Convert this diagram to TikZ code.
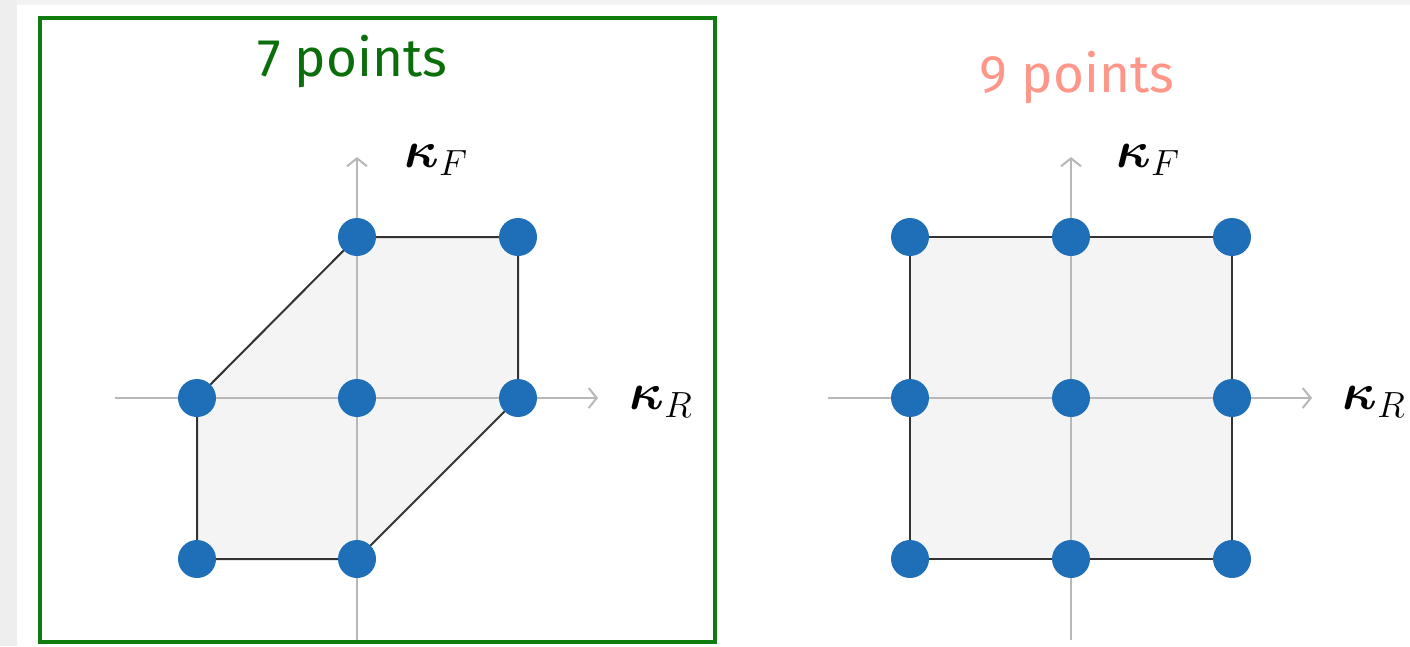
\RequirePackage{fix-cm}
\documentclass[tikz,border=0pt]{standalone}
\usepackage{fontspec}
\usepackage{bm}
\newfontfamily\titlefont{Fira Sans}
\usetikzlibrary{arrows.meta,backgrounds}
\definecolor{axisgray}{HTML}{B8B8B8}
\definecolor{dotblue}{HTML}{1F6FB8}
\definecolor{fillgray}{HTML}{F4F4F4}
\definecolor{framegreen}{HTML}{107C10}
\definecolor{titlegreen}{HTML}{0A6E0A}
\definecolor{salmontxt}{HTML}{FF968A}
\definecolor{stripgray}{HTML}{EEEEEE}
\begin{document}
\begin{tikzpicture}[x=1pt,y=-1pt,
  axis/.style={draw=axisgray,line width=2pt,-{Straight Barb[length=8pt,width=20pt]}},
  dot/.style={circle,fill=dotblue,minimum size=38pt,inner sep=0pt},
  edge/.style={draw=black!80,line width=2pt},
  lbl/.style={font=\fontsize{52}{56}\selectfont,inner sep=0pt},
  ttl/.style={font=\titlefont\fontsize{53}{60}\selectfont,anchor=base,inner sep=0pt}]
\useasboundingbox (0,0) rectangle (1410,646);
% frame
\draw[framegreen,line width=4pt] (40,18) rectangle (715,642);
% titles
\node[ttl,text=titlegreen] (t1) at (352,76) {7 points};
\node[ttl,text=salmontxt] (t2) at (1077,92) {9 points};
% left dots
\node[dot] (a1) at (357,237) {};
\node[dot] (a2) at (518,237) {};
\node[dot] (a3) at (197,398) {};
\node[dot] (a4) at (357,398) {};
\node[dot] (a5) at (518,398) {};
\node[dot] (a6) at (197,559) {};
\node[dot] (a7) at (357,559) {};
% right dots
\node[dot] (b1) at (910,237) {};
\node[dot] (b2) at (1071,237) {};
\node[dot] (b3) at (1232,237) {};
\node[dot] (b4) at (910,398) {};
\node[dot] (b5) at (1071,398) {};
\node[dot] (b6) at (1232,398) {};
\node[dot] (b7) at (910,559) {};
\node[dot] (b8) at (1071,559) {};
\node[dot] (b9) at (1232,559) {};
% axis ends
\coordinate (axl) at (115,398);
\coordinate (axr) at (598,398);
\coordinate (ayb) at (357,640);
\coordinate (ayt) at (357,157);
\coordinate (bxl) at (828,398);
\coordinate (bxr) at (1312,398);
\coordinate (byb) at (1071,640);
\coordinate (byt) at (1071,157);
% labels
\node[lbl] (kf1) at (436,160) {$\bm{\kappa}_F$};
\node[lbl] (kr1) at (661,402) {$\bm{\kappa}_R$};
\node[lbl] (kf2) at (1148,160) {$\bm{\kappa}_F$};
\node[lbl] (kr2) at (1374,402) {$\bm{\kappa}_R$};
\begin{scope}[on background layer]
\fill[white] (0,0) rectangle (1410,646);
\fill[stripgray!70] (0,0) rectangle (1410,5);
\fill[stripgray] (0,0) rectangle (17,646);
\fill[fillgray] (a1.center) -- (a2.center) -- (a5.center) -- (a7.center) -- (a6.center) -- (a3.center) -- cycle;
\fill[fillgray] (b1.center) rectangle (b9.center);
\draw[axis] (axl) -- (axr);
\draw[axis] (ayb) -- (ayt);
\draw[axis] (bxl) -- (bxr);
\draw[axis] (byb) -- (byt);
\draw[edge] (a1.center) -- (a2.center) -- (a5.center) -- (a7.center) -- (a6.center) -- (a3.center) -- cycle;
\draw[edge] (b1.center) -- (b3.center) -- (b9.center) -- (b7.center) -- cycle;
\end{scope}
\end{tikzpicture}
\end{document}
